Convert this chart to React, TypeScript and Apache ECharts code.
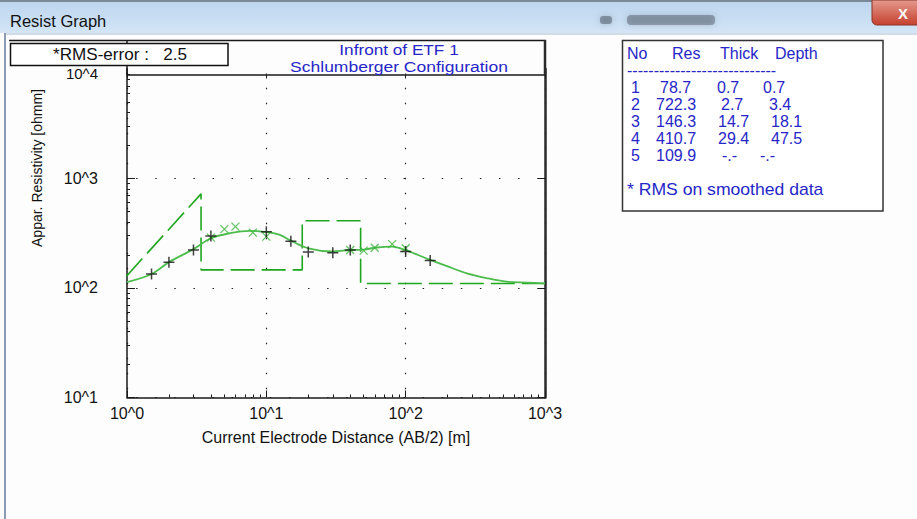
import React, { useEffect, useRef } from 'react';
import * as echarts from 'echarts';

// Observed apparent resistivity (black +)
const obsAB = [1.5, 2, 3, 4, 10, 15, 20, 30, 40, 100, 150];
const obsRho = [134, 172, 222, 298, 325, 267, 213, 210, 222, 215, 178];

// Smoothed data (green x)
const smAB = [4, 5, 6, 8, 10, 40, 50, 60, 80, 100];
const smRho = [288, 344, 363, 320, 294, 222, 219, 233, 251, 230];

// Model response curve
const fitAB = [1, 1.5, 2, 3, 4, 5.5, 7.6, 10, 12.5, 15, 20, 30, 40, 50, 62, 80, 100, 150, 200, 275, 380, 530, 740, 1000];
const fitRho = [113, 134, 172, 226, 284, 316, 332, 323, 305, 270, 230, 215, 222, 224, 234, 238, 221, 180, 157, 136, 123, 114, 112, 110];

// Layer model table
const layerNo = [1, 2, 3, 4, 5];
const layerRes = [78.7, 722.3, 146.3, 410.7, 109.9];
const layerThick = ['0.7', '2.7', '14.7', '29.4', '-.-'];
const layerDepth = [0.7, 3.4, 18.1, 47.5];
const layerDepthText = ['0.7', '3.4', '18.1', '47.5', '-.-'];

const rmsError = 2.5;
const titleLines = ['Infront of ETF 1', 'Schlumberger Configuration'];
const xName = 'Current Electrode Distance (AB/2) [m]';
const yName = 'Appar. Resistivity [ohmm]';
const xMin = 1, xMax = 1000, yMin = 10, yMax = 10000;

const FONT = '"Liberation Sans", Arial, sans-serif';
const BLUE = '#2626c8';
const BG = '#fdfdfd';

const powLabel = (v: number) => '10^' + Math.round(Math.log10(v));
const yLabel = (v: number) => (v >= yMax ? '{t|' + powLabel(v) + '}' : powLabel(v));

export default function App() {
  const ref = useRef<HTMLDivElement>(null);
  useEffect(() => {
    if (!ref.current) return;
    const chart = echarts.init(ref.current, undefined, { renderer: 'svg' });

    const modelPts: number[][] = [[layerDepth[0], layerRes[0]]];
    for (let i = 1; i < layerRes.length; i++) {
      const top = layerDepth[i - 1];
      const bottom = i < layerDepth.length ? layerDepth[i] : xMax;
      if (i > 1) modelPts.push([top, layerRes[i]]);
      modelPts.push([bottom, layerRes[i]]);
    }

    const cellX = [
      [631, 660, 717, 763],
      [631, 656, 721, 769],
      [631, 656, 718, 771],
      [631, 656, 718, 771],
      [631, 656, 722, 760],
    ];
    const tableTexts: any[] = [];
    layerNo.forEach((n, i) => {
      const y = 87.5 + i * 17;
      const cells = [String(n), layerRes[i].toFixed(1), layerThick[i], layerDepthText[i]];
      cells.forEach((c, j) => {
        tableTexts.push({
          type: 'text', x: cellX[i][j], y, z: 100,
          style: { text: c, fill: BLUE, font: `16px ${FONT}`, textVerticalAlign: 'middle' },
        });
      });
    });
    const headers = [['No', 627], ['Res', 672], ['Thick', 720], ['Depth', 775]];
    headers.forEach(([t, x]) => {
      tableTexts.push({
        type: 'text', x, y: 53, z: 100,
        style: { text: t, fill: BLUE, font: `16px ${FONT}`, textVerticalAlign: 'middle' },
      });
    });

    const axisLineStyle = { color: '#1a1a1a', width: 1.5 };

    chart.setOption({
      animation: false,
      backgroundColor: BG,
      grid: { left: 127, top: 68.8, width: 418, height: 328.7, containLabel: false },
      xAxis: [
        {
          type: 'log', logBase: 10, min: xMin, max: xMax, position: 'bottom',
          name: xName, nameLocation: 'middle', nameGap: 32,
          nameTextStyle: { fontSize: 16, color: '#111', fontFamily: FONT },
          axisLine: { lineStyle: axisLineStyle },
          axisTick: { inside: true, length: 7, lineStyle: { color: '#1a1a1a' } },
          minorTick: { show: true, splitNumber: 9, length: 3, lineStyle: { color: '#1a1a1a' } },
          axisLabel: { formatter: powLabel, fontSize: 16, color: '#111', fontFamily: FONT, margin: 8 },
          splitLine: { show: true, lineStyle: { color: '#222', width: 1.2, type: [1.5, 13.5], dashOffset: 10.8 } },
        },
        {
          type: 'log', logBase: 10, min: xMin, max: xMax, position: 'top', offset: -5.7,
          axisLine: { lineStyle: axisLineStyle },
          axisTick: { inside: true, length: 4, lineStyle: { color: '#1a1a1a' } },
          axisLabel: { show: false },
          splitLine: { show: false },
        },
      ],
      yAxis: [
        {
          type: 'log', logBase: 10, min: yMin, max: yMax, position: 'left',
          axisLine: { lineStyle: axisLineStyle },
          axisTick: { inside: true, length: 8, lineStyle: { color: '#1a1a1a' } },
          minorTick: { show: true, splitNumber: 9, length: 3, lineStyle: { color: '#1a1a1a' } },
          axisLabel: {
            formatter: yLabel, fontSize: 16, color: '#111', fontFamily: FONT, margin: 29,
            rich: { t: { fontSize: 15, color: '#111', fontFamily: FONT, padding: [10, 0, 0, 0] } },
          },
          splitLine: { show: true, lineStyle: { color: '#222', width: 1.2, type: [1.5, 17.6], dashOffset: 10.2 } },
        },
        {
          type: 'log', logBase: 10, min: yMin, max: yMax, position: 'right',
          axisLine: { lineStyle: { color: '#2a2a2a', width: 2.5 } },
          axisTick: { inside: true, length: 7, lineStyle: { color: '#1a1a1a' } },
          axisLabel: { show: false },
          splitLine: { show: false },
        },
      ],
      series: [
        {
          name: 'Model', type: 'line', data: modelPts, showSymbol: false, symbol: 'none',
          lineStyle: { color: '#1ea61e', width: 1.6, type: [24, 7] }, clip: true, z: 3,
        },
        {
          name: 'Fit', type: 'line', data: fitAB.map((x, i) => [x, fitRho[i]]), smooth: 0.35,
          showSymbol: false, symbol: 'none',
          lineStyle: { color: '#4cbc4c', width: 1.8 }, clip: true, z: 4,
        },
        {
          name: 'Smoothed', type: 'scatter', data: smAB.map((x, i) => [x, smRho[i]]),
          symbol: 'path://M0,0L10,10M10,0L0,10', symbolSize: 8,
          itemStyle: { color: 'rgba(0,0,0,0)', borderColor: '#3cb43c', borderWidth: 1.3 }, z: 5,
        },
        {
          name: 'Observed', type: 'scatter', data: obsAB.map((x, i) => [x, obsRho[i]]),
          symbol: 'path://M5,0L5,10M0,5L10,5', symbolSize: 11,
          itemStyle: { color: 'rgba(0,0,0,0)', borderColor: '#111', borderWidth: 1.5 }, z: 6,
        },
      ],
      graphic: [
        // window title bar
        {
          type: 'rect', shape: { x: 0, y: 0, width: 917, height: 33 }, z: 100,
          style: { fill: { type: 'linear', x: 0, y: 0, x2: 0, y2: 1, colorStops: [{ offset: 0, color: '#bcd5ee' }, { offset: 1, color: '#d3e5f6' }] } },
          silent: true,
        },
        { type: 'rect', shape: { x: 0, y: 0, width: 917, height: 2 }, z: 100, style: { fill: '#7c8896' }, silent: true },
        { type: 'rect', shape: { x: 600, y: 16, width: 12, height: 8, r: 3 }, z: 100, style: { fill: 'rgba(60,70,85,0.45)', shadowBlur: 6, shadowColor: 'rgba(60,70,85,0.6)' }, silent: true },
        { type: 'rect', shape: { x: 627, y: 15, width: 88, height: 10, r: 4 }, z: 100, style: { fill: 'rgba(60,70,85,0.4)', shadowBlur: 6, shadowColor: 'rgba(60,70,85,0.6)' }, silent: true },
        {
          type: 'rect', shape: { x: 872, y: 0, width: 50, height: 25, r: [0, 0, 0, 5] }, z: 100,
          style: { fill: { type: 'linear', x: 0, y: 0, x2: 0, y2: 1, colorStops: [{ offset: 0, color: '#e59a8e' }, { offset: 1, color: '#c4402e' }] }, stroke: '#8c3326', lineWidth: 1 },
          silent: true,
        },
        { type: 'text', x: 903, y: 13, z: 100, style: { text: 'X', fill: '#fff', font: `bold 15px ${FONT}`, textAlign: 'center', textVerticalAlign: 'middle' }, silent: true },
        { type: 'text', x: 10, y: 21, z: 100, style: { text: 'Resist Graph', fill: '#111', font: `16.5px ${FONT}`, textVerticalAlign: 'middle' }, silent: true },
        { type: 'line', shape: { x1: 4, y1: 34, x2: 917, y2: 34 }, z: 100, style: { stroke: '#a9b8cb', lineWidth: 1 }, silent: true },
        { type: 'line', shape: { x1: 5, y1: 33, x2: 5, y2: 519 }, z: 100, style: { stroke: '#8a9cb3', lineWidth: 2 }, silent: true },
        // title area of the plot frame
        { type: 'rect', shape: { x: 128, y: 41.5, width: 416, height: 32 }, z: 100, style: { fill: BG }, silent: true },
        { type: 'line', shape: { x1: 9, y1: 40.5, x2: 546, y2: 40.5 }, z: 100, style: { stroke: '#1a1a1a', lineWidth: 1.5 }, silent: true },
        { type: 'line', shape: { x1: 127, y1: 40, x2: 127, y2: 75 }, z: 100, style: { stroke: '#1a1a1a', lineWidth: 1.5 }, silent: true },
        { type: 'line', shape: { x1: 545, y1: 40, x2: 545, y2: 75 }, z: 100, style: { stroke: '#2a2a2a', lineWidth: 2.5 }, silent: true },
        { type: 'rect', shape: { x: 10.5, y: 43.5, width: 217.5, height: 22 }, z: 100, style: { fill: '#fff', stroke: '#111', lineWidth: 1.5 }, silent: true },
        { type: 'text', x: 53, y: 55, z: 100, style: { text: `*RMS-error :   ${rmsError}`, fill: '#111', font: `16px ${FONT}`, textVerticalAlign: 'middle' }, scaleX: 1.07, silent: true },
        { type: 'text', x: 399, y: 49.5, z: 100, scaleX: 1.11, style: { text: titleLines[0], fill: BLUE, font: `15.5px ${FONT}`, textAlign: 'center', textVerticalAlign: 'middle' }, silent: true },
        { type: 'text', x: 399, y: 67, z: 100, scaleX: 1.13, style: { text: titleLines[1], fill: BLUE, font: `15.5px ${FONT}`, textAlign: 'center', textVerticalAlign: 'middle' }, silent: true },
        { type: 'text', x: 37, y: 168, rotation: Math.PI / 2, z: 100, style: { text: yName, fill: '#111', font: `14px ${FONT}`, textAlign: 'center', textVerticalAlign: 'middle' }, silent: true },
        // layer table
        { type: 'rect', shape: { x: 622.5, y: 40.5, width: 260.5, height: 170.5 }, z: 99, style: { fill: '#fff', stroke: '#333', lineWidth: 1.5 }, silent: true },
        ...tableTexts,
        { type: 'text', x: 627, y: 70, z: 100, style: { text: '----------------------------', fill: BLUE, font: `16px ${FONT}`, textVerticalAlign: 'middle' }, silent: true },
        { type: 'text', x: 627, y: 190, z: 100, scaleX: 1.1, style: { text: '* RMS on smoothed data', fill: BLUE, font: `16px ${FONT}`, textVerticalAlign: 'middle' }, silent: true },
      ],
    });
    return () => chart.dispose();
  }, []);
  return <div ref={ref} style={{ position: 'fixed', left: 0, top: 0, width: 917, height: 519 }} />;
}
